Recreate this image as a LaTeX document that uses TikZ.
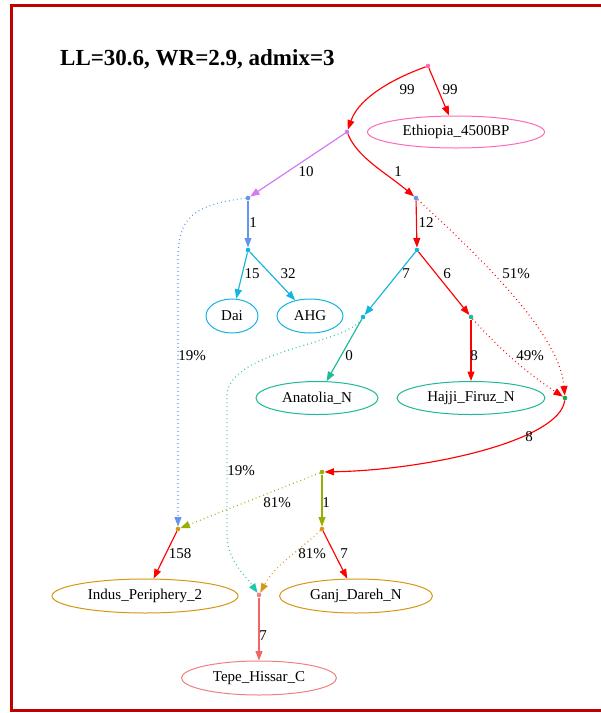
\documentclass[tikz,border=0pt]{standalone}
\usepackage{fontspec}
\setmainfont{Liberation Serif}
\usetikzlibrary{arrows.meta,shapes.geometric}
\definecolor{bordred}{RGB}{190,0,0}
\definecolor{ered}{RGB}{255,0,0}
\definecolor{hpink}{RGB}{255,105,180}
\definecolor{violetc}{RGB}{214,120,245}
\definecolor{cblue}{RGB}{100,149,237}
\definecolor{dsky}{RGB}{20,180,225}
\definecolor{teal2}{RGB}{30,185,150}
\definecolor{turq}{RGB}{30,200,175}
\definecolor{greenc}{RGB}{20,170,80}
\definecolor{olive2}{RGB}{150,175,0}
\definecolor{gold2}{RGB}{215,150,20}
\definecolor{coral2}{RGB}{240,128,128}
\definecolor{coralline}{RGB}{245,100,100}
\begin{document}
\begin{tikzpicture}[x=1pt,y=-1pt,
  ndot/.style={circle,fill=#1,inner sep=0pt,minimum size=4.6pt},
  pop/.style={ellipse,draw=#1,line width=1pt,inner sep=0pt,font=\fontsize{15}{18}\selectfont},
  lbl/.style={font=\fontsize{15}{18}\selectfont,inner sep=0pt},
  conn/.style={draw=#1,line width=1.15pt,-{Triangle[length=9.5pt,width=7pt]}},
  mix/.style={conn=#1,line width=1.2pt,dash pattern=on 0.8pt off 3.2pt}]
\useasboundingbox (0,0) rectangle (601,713);
\fill[white] (0,0) rectangle (601,713);
\draw[bordred,line width=3pt] (11,5) rectangle (606,710);
\node[font=\fontsize{23}{27}\selectfont\bfseries,anchor=base west,inner sep=0pt] (title) at (60,65) {LL=30.6, WR=2.9, admix=3};
% dots
\node[ndot=hpink] (R) at (428,66) {};
\node[ndot=violetc] (A) at (347,132) {};
\node[ndot=cblue] (B) at (248,198) {};
\node[ndot=cblue] (C) at (416,198) {};
\node[ndot=dsky] (D) at (248,250) {};
\node[ndot=dsky] (E) at (417,250) {};
\node[ndot=dsky] (F) at (363,317) {};
\node[ndot=teal2] (G) at (471,317) {};
\node[ndot=greenc] (H) at (565,398) {};
\node[ndot=olive2] (I) at (322,472) {};
\node[ndot=gold2] (J) at (178,529) {};
\node[ndot=gold2] (K) at (322,529) {};
\node[ndot=coral2] (L) at (259,595) {};
% populations
\node[pop=hpink,minimum width=177pt,minimum height=32pt] (eth) at (456,132) {Ethiopia\_4500BP};
\node[pop=dsky,minimum width=52pt,minimum height=34pt] (dai) at (232,316) {Dai};
\node[pop=dsky,minimum width=66pt,minimum height=34pt] (ahg) at (310,316) {AHG};
\node[pop=teal2,minimum width=122pt,minimum height=33pt] (anat) at (317,398) {Anatolia\_N};
\node[pop=teal2,minimum width=148pt,minimum height=33pt] (hajji) at (471,398) {Hajji\_Firuz\_N};
\node[pop=gold2,minimum width=186pt,minimum height=34pt] (indus) at (145,596) {Indus\_Periphery\_2};
\node[pop=gold2,minimum width=153pt,minimum height=34pt] (ganj) at (356,596) {Ganj\_Dareh\_N};
\node[pop=coral2,minimum width=155pt,minimum height=34pt] (tepe) at (259,678) {Tepe\_Hissar\_C};
% edges
\draw[conn=ered] (R) .. controls (400,76) and (360,95) .. (A);
\draw[conn=ered] (R) -- (eth);
\draw[conn=violetc] (A) -- (B);
\draw[conn=ered] (A) .. controls (358,158) and (385,172) .. (C);
\draw[conn=cblue] (B) -- (D);
\draw[conn=ered] (C) -- (E);
\draw[conn=dsky] (D) -- (dai);
\draw[conn=dsky] (D) -- (ahg);
\draw[conn=dsky] (E) -- (F);
\draw[conn=ered] (E) -- (G);
\draw[conn=teal2] (F) -- (anat);
\draw[conn=ered] (G) -- (hajji);
\draw[mix=ered] (C) .. controls (500,275) and (560,340) .. (H);
\draw[mix=ered] (G) .. controls (500,350) and (530,375) .. (H);
\draw[conn=ered] (H) .. controls (560,440) and (430,470) .. (I);
\draw[conn=olive2] (I) -- (K);
\draw[mix=olive2] (I) -- (J);
\draw[mix=cblue] (B) .. controls (190,205) and (178,220) .. (178,260) -- (J);
\draw[mix=turq] (F) .. controls (345,345) and (230,350) .. (227,395) -- (227,535) .. controls (227,560) and (245,575) .. (L);
\draw[mix=gold2] (K) .. controls (300,550) and (275,565) .. (L);
\draw[conn=ered] (J) -- (indus);
\draw[conn=ered] (K) -- (ganj);
\draw[conn=coralline] (L) -- (tepe);
% labels
\node[lbl] (l1) at (407,90) {99};
\node[lbl] (l2) at (450,90) {99};
\node[lbl] (l3) at (306,172) {10};
\node[lbl] (l4) at (398,172) {1};
\node[lbl] (l5) at (253,223) {1};
\node[lbl] (l6) at (426,223) {12};
\node[lbl] (l7) at (252,274) {15};
\node[lbl] (l8) at (288,274) {32};
\node[lbl] (l9) at (406,274) {7};
\node[lbl] (l10) at (447,274) {6};
\node[lbl] (l11) at (516,274) {51\%};
\node[lbl] (l12) at (192,356) {19\%};
\node[lbl] (l13) at (349,356) {0};
\node[lbl] (l14) at (474,356) {8};
\node[lbl] (l15) at (530,356) {49\%};
\node[lbl] (l16) at (529,437) {8};
\node[lbl] (l17) at (241,471) {19\%};
\node[lbl] (l18) at (277,503) {81\%};
\node[lbl] (l19) at (326,503) {1};
\node[lbl] (l20) at (180,554) {158};
\node[lbl] (l21) at (312,554) {81\%};
\node[lbl] (l22) at (344,554) {7};
\node[lbl] (l23) at (263,636) {7};
\end{tikzpicture}
\end{document}
